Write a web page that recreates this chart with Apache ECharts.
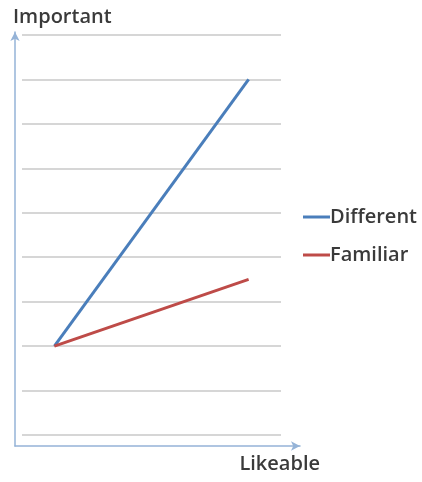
<!DOCTYPE html>
<html><head><meta charset="utf-8">
<script src="https://cdn.jsdelivr.net/npm/echarts@6/dist/echarts.min.js"></script>
<style>html,body{margin:0;padding:0;background:#fff}#c{width:422px;height:482px}</style>
</head><body><div id="c"></div>
<script>
const seriesNames = ['Different', 'Familiar'];
const differentPoints = [[0.75, 2], [5.25, 8]];
const familiarPoints = [[0.75, 2], [5.25, 3.5]];
const yAxisName = 'Important';
const xAxisName = 'Likeable';

const chart = echarts.init(document.getElementById('c'));
const txt = '#3a3a3a';
const font = 'Open Sans';
const fs = 20;
const fw = 600;
chart.setOption({
  animation: false,
  backgroundColor: '#fff',
  textStyle: { fontFamily: font },
  grid: [
    { left: 22, right: 141, top: 35, bottom: 47 },
    { left: 15, right: 122, top: 32, bottom: 36 }
  ],
  xAxis: [
    { gridIndex: 0, type: 'value', min: 0, max: 6, axisLine: { show: false }, axisTick: { show: false }, axisLabel: { show: false }, splitLine: { show: false } },
    { gridIndex: 1, type: 'value', min: 0, max: 1, axisLine: { show: true, lineStyle: { color: '#95b3d7', width: 1.5 }, symbol: ['none', 'arrow'], symbolSize: [7, 9] },
      axisTick: { show: false }, axisLabel: { show: false }, splitLine: { show: false },
      name: xAxisName, nameLocation: 'end', nameGap: 0,
      nameTextStyle: { color: txt, fontSize: fs, fontWeight: fw, fontFamily: font, align: 'right', verticalAlign: 'top', padding: [8, -20, 0, 0] } }
  ],
  yAxis: [
    { gridIndex: 0, type: 'value', min: 0, max: 9, interval: 1, axisLine: { show: false }, axisTick: { show: false }, axisLabel: { show: false },
      splitLine: { show: true, lineStyle: { color: '#c8c8c8', width: 1.5 } } },
    { gridIndex: 1, type: 'value', min: 0, max: 1, axisLine: { show: true, lineStyle: { color: '#95b3d7', width: 1.5 }, symbol: ['none', 'arrow'], symbolSize: [7, 9] },
      axisTick: { show: false }, axisLabel: { show: false }, splitLine: { show: false },
      name: yAxisName, nameLocation: 'end', nameGap: 5,
      nameTextStyle: { color: txt, fontSize: fs, fontWeight: fw, fontFamily: font, align: 'left', padding: [0, 0, 0, -2] } }
  ],
  legend: {
    orient: 'vertical', left: 298, top: 202, itemGap: 18,
    icon: 'rect', itemWidth: 27, itemHeight: 3,
    textStyle: { color: txt, fontSize: fs, fontWeight: fw, fontFamily: font, padding: [0, 0, 0, -5] },
    data: seriesNames
  },
  series: [
    { name: seriesNames[0], type: 'line', xAxisIndex: 0, yAxisIndex: 0, data: differentPoints, showSymbol: false, color: '#4a7ebb', lineStyle: { width: 3 } },
    { name: seriesNames[1], type: 'line', xAxisIndex: 0, yAxisIndex: 0, data: familiarPoints, showSymbol: false, color: '#be4b48', lineStyle: { width: 3 } }
  ]
});
</script></body></html>
